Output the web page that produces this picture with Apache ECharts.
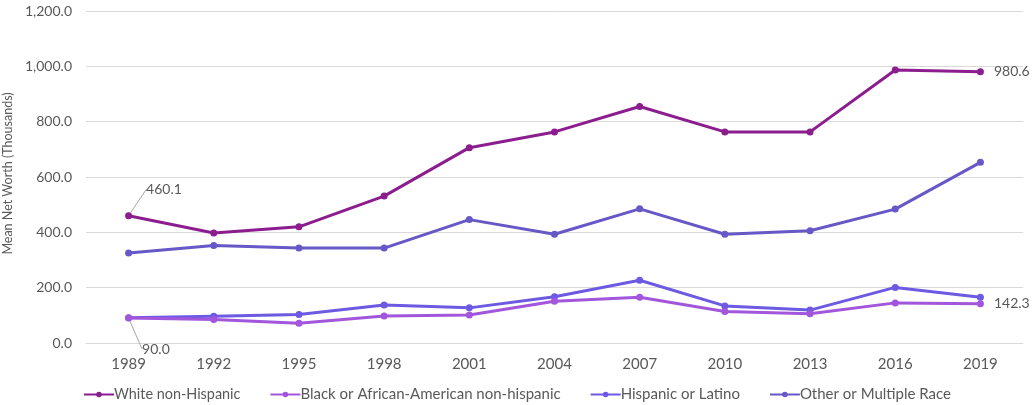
<!DOCTYPE html>
<html>
<head>
<meta charset="utf-8">
<script src="https://cdn.jsdelivr.net/npm/echarts@6/dist/echarts.min.js"></script>
<style>
  html, body { margin: 0; padding: 0; background: #fff; }
  #chart { width: 1034px; height: 405px; }
</style>
</head>
<body>
<div id="chart"></div>
<script>
// Survey years
const years = ['1989', '1992', '1995', '1998', '2001', '2004', '2007', '2010', '2013', '2016', '2019'];

// Mean net worth by race/ethnicity, thousands of dollars
const white    = [460.1, 397.5, 420.0, 531.0, 706.0, 763.0, 855.0, 763.0, 763.0, 987.0, 980.6];
const black    = [90.0, 85.0, 71.0, 98.0, 101.0, 151.0, 165.0, 114.0, 106.0, 145.0, 142.3];
const hispanic = [91.0, 97.0, 103.0, 137.0, 127.0, 167.0, 227.0, 134.0, 119.0, 201.0, 165.0];
const other    = [325.0, 352.0, 343.0, 343.0, 446.0, 393.0, 485.0, 393.0, 406.0, 484.0, 653.0];

const seriesNames = [
  'White non-Hispanic',
  'Black or African-American non-hispanic',
  'Hispanic or Latino',
  'Other or Multiple Race'
];

// Values annotated on the chart: series index -> data indices
const labelled = { 0: [0, 10], 1: [0, 10] };

const FONT = 'Lato, "Open Sans", sans-serif';
const TEXT = '#595959';
const colors = ['#8c1d8e', '#a256dc', '#6c5ae2', '#6658c6'];

const chart = echarts.init(document.getElementById('chart'), null, { renderer: 'canvas' });

function buildSeries(name, values, idx) {
  const idxs = labelled[idx] || [];
  return {
    name: name,
    type: 'line',
    data: values.map((v, i) => {
      if (idxs.indexOf(i) < 0) return v;
      return {
        value: v,
        label: { show: true },
        labelLine: { show: i === 0 }
      };
    }),
    symbol: 'circle',
    symbolSize: 7,
    z: 10 - idx,
    lineStyle: { width: 3, color: colors[idx] },
    itemStyle: { color: colors[idx] },
    label: {
      show: false,
      position: 'right',
      distance: 10,
      color: TEXT,
      fontFamily: FONT,
      fontSize: 14,
      formatter: p => p.value.toFixed(1)
    },
    labelLine: {
      show: false,
      lineStyle: { color: '#a6a6a6', width: 1 }
    },
    labelLayout: function (params) {
      if (params.dataIndex !== 0) return {};
      // first-year labels sit off to the side with a leader line
      if (idx === 0) return { dx: 4, dy: -26 };
      return { dx: 0, dy: 31 };
    },
    emphasis: { disabled: true }
  };
}

chart.setOption({
  animation: false,
  textStyle: { fontFamily: FONT },
  grid: { left: 86, right: 11, top: 11, bottom: 62, containLabel: false, outerBoundsMode: 'none' },
  legend: {
    left: 78,
    bottom: -2,
    itemWidth: 30,
    itemHeight: 7,
    itemGap: 29,
    textStyle: { color: TEXT, fontSize: 15, fontFamily: FONT, padding: [0, 0, 0, -5] },
    data: [
      { name: seriesNames[0], textStyle: { fontSize: 14.4 } },
      seriesNames[1],
      seriesNames[2],
      seriesNames[3]
    ]
  },
  xAxis: {
    type: 'category',
    data: years,
    boundaryGap: true,
    axisLine: { show: true, lineStyle: { color: '#d9d9d9', width: 1 } },
    axisTick: { show: false },
    axisLabel: { color: TEXT, fontSize: 15, fontFamily: FONT, margin: 14 }
  },
  yAxis: {
    type: 'value',
    min: 0,
    max: 1200,
    interval: 200,
    name: 'Mean Net Worth (Thousands)',
    nameLocation: 'middle',
    nameGap: 66,
    nameTextStyle: { color: TEXT, fontSize: 12.5, fontFamily: FONT, padding: [0, 0, 0, 7] },
    axisLine: { show: false },
    axisTick: { show: false },
    splitLine: { lineStyle: { color: '#d9d9d9', width: 1 } },
    axisLabel: {
      color: TEXT,
      fontSize: 14,
      fontFamily: FONT,
      margin: 14,
      formatter: v => v.toLocaleString('en-US', { minimumFractionDigits: 1, maximumFractionDigits: 1 })
    }
  },
  series: [
    buildSeries(seriesNames[0], white, 0),
    buildSeries(seriesNames[1], black, 1),
    buildSeries(seriesNames[2], hispanic, 2),
    buildSeries(seriesNames[3], other, 3)
  ]
});
</script>
</body>
</html>
